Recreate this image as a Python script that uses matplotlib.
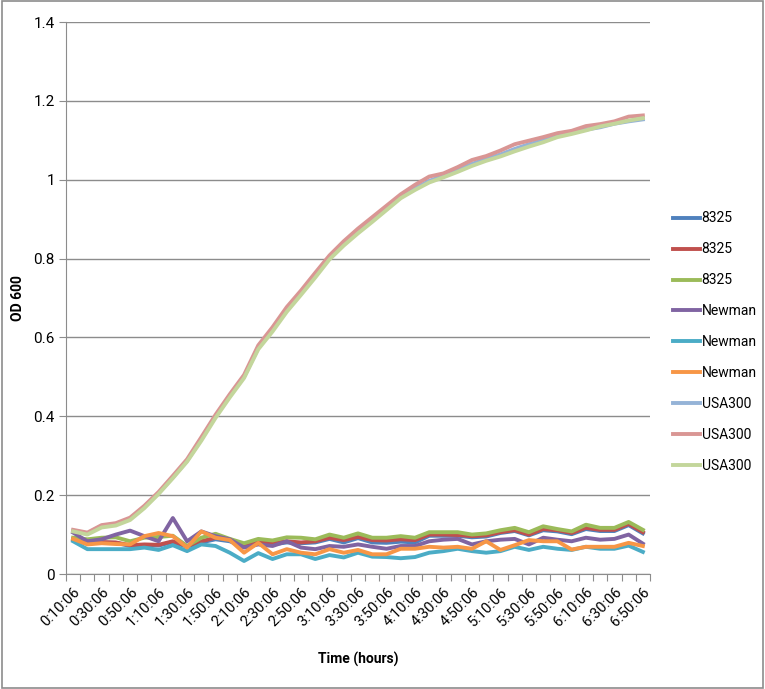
import numpy as np
import matplotlib.pyplot as plt
from matplotlib.patches import Rectangle
from matplotlib.ticker import FixedLocator, FuncFormatter

# time points, every 10 minutes
times = ['%d:%02d:06' % divmod(10 + 10 * k, 60) for k in range(41)]

usa300_a = [0.110, 0.103, 0.122, 0.127, 0.140, 0.170, 0.205, 0.245, 0.287, 0.342,
            0.400, 0.452, 0.500, 0.574, 0.620, 0.670, 0.712, 0.757, 0.802, 0.838,
            0.870, 0.899, 0.928, 0.957, 0.978, 0.997, 1.010, 1.024, 1.040, 1.053,
            1.064, 1.078, 1.090, 1.100, 1.110, 1.120, 1.127, 1.133, 1.142, 1.148, 1.153]
usa300_b = [0.112, 0.105, 0.124, 0.129, 0.143, 0.173, 0.208, 0.249, 0.291, 0.347,
            0.404, 0.456, 0.505, 0.580, 0.626, 0.677, 0.719, 0.764, 0.808, 0.844,
            0.876, 0.905, 0.934, 0.963, 0.987, 1.008, 1.016, 1.032, 1.050, 1.060,
            1.074, 1.090, 1.099, 1.108, 1.118, 1.124, 1.136, 1.141, 1.148, 1.160, 1.163]
usa300_c = [0.108, 0.100, 0.118, 0.123, 0.137, 0.167, 0.203, 0.243, 0.285, 0.338,
            0.396, 0.448, 0.497, 0.570, 0.615, 0.665, 0.708, 0.752, 0.798, 0.833,
            0.864, 0.893, 0.923, 0.953, 0.974, 0.993, 1.006, 1.020, 1.035, 1.048,
            1.059, 1.072, 1.084, 1.095, 1.108, 1.116, 1.125, 1.135, 1.142, 1.150, 1.156]

s8325_a = [0.087, 0.077, 0.080, 0.079, 0.071, 0.073, 0.072, 0.081, 0.069, 0.080,
           0.088, 0.083, 0.068, 0.080, 0.075, 0.080, 0.078, 0.080, 0.089, 0.080,
           0.091, 0.080, 0.079, 0.082, 0.080, 0.097, 0.097, 0.097, 0.093, 0.095,
           0.104, 0.109, 0.098, 0.111, 0.108, 0.101, 0.114, 0.109, 0.109, 0.124, 0.103]
s8325_b = [0.088, 0.080, 0.081, 0.080, 0.073, 0.075, 0.074, 0.083, 0.071, 0.083,
           0.092, 0.088, 0.071, 0.083, 0.078, 0.083, 0.080, 0.083, 0.092, 0.086,
           0.094, 0.086, 0.085, 0.088, 0.086, 0.100, 0.100, 0.099, 0.096, 0.098,
           0.106, 0.111, 0.100, 0.114, 0.111, 0.104, 0.117, 0.112, 0.112, 0.127, 0.106]
s8325_c = [0.092, 0.088, 0.092, 0.093, 0.083, 0.092, 0.094, 0.097, 0.071, 0.092,
           0.102, 0.089, 0.078, 0.089, 0.085, 0.093, 0.092, 0.088, 0.100, 0.092,
           0.103, 0.092, 0.092, 0.096, 0.092, 0.106, 0.106, 0.106, 0.100, 0.103,
           0.111, 0.117, 0.106, 0.121, 0.114, 0.108, 0.125, 0.117, 0.117, 0.132, 0.112]

newman_a = [0.105, 0.083, 0.088, 0.100, 0.110, 0.096, 0.083, 0.142, 0.083, 0.108,
            0.096, 0.088, 0.067, 0.075, 0.071, 0.083, 0.067, 0.063, 0.071, 0.069,
            0.075, 0.069, 0.064, 0.071, 0.071, 0.083, 0.087, 0.089, 0.075, 0.083,
            0.087, 0.089, 0.075, 0.092, 0.087, 0.083, 0.092, 0.087, 0.089, 0.100, 0.077]
newman_b = [0.083, 0.063, 0.063, 0.063, 0.063, 0.067, 0.061, 0.073, 0.058, 0.075,
            0.071, 0.054, 0.033, 0.053, 0.038, 0.050, 0.050, 0.038, 0.048, 0.042,
            0.054, 0.044, 0.043, 0.040, 0.043, 0.054, 0.058, 0.064, 0.058, 0.054,
            0.058, 0.069, 0.061, 0.069, 0.064, 0.061, 0.069, 0.064, 0.064, 0.072, 0.056]
newman_c = [0.089, 0.075, 0.078, 0.076, 0.075, 0.096, 0.104, 0.096, 0.067, 0.108,
            0.092, 0.086, 0.054, 0.079, 0.050, 0.063, 0.054, 0.050, 0.063, 0.054,
            0.061, 0.050, 0.050, 0.064, 0.064, 0.069, 0.067, 0.069, 0.064, 0.083,
            0.061, 0.073, 0.086, 0.083, 0.083, 0.062, 0.069, 0.069, 0.069, 0.079, 0.071]

series = [s8325_a, s8325_b, s8325_c, newman_a, newman_b, newman_c,
          usa300_a, usa300_b, usa300_c]
labels = ['8325', '8325', '8325', 'Newman', 'Newman', 'Newman',
          'USA300', 'USA300', 'USA300']
colors = ['#4F81BD', '#C0504D', '#9BBB59', '#8064A2', '#4BACC6', '#F79646',
          '#95B3D7', '#D99694', '#C3D69B']

plt.rcParams['font.family'] = ['Roboto', 'DejaVu Sans']

fig = plt.figure(figsize=(7.65, 6.89), dpi=100)
ax = fig.add_axes([66 / 765, 115 / 689, 584 / 765, 552 / 689])

x = np.arange(len(times))
for vals, lab, col in zip(series, labels, colors):
    ax.plot(x, vals, color=col, lw=2.8, label=lab, solid_joinstyle='round')

ax.set_xlim(-0.5, len(times) - 0.5)
ax.set_ylim(0, 1.4)
ax.set_yticks(np.arange(0, 1.41, 0.2))
ax.yaxis.set_major_formatter(FuncFormatter(lambda v, p: '%g' % round(v, 1)))
ax.grid(axis='y', color='#8C8C8C', lw=1)
ax.set_axisbelow(True)

# category boundaries get the tick marks, labels sit on every other category
ax.xaxis.set_major_locator(FixedLocator(np.arange(-0.5, len(times), 1.0)))
ax.xaxis.set_major_formatter(FuncFormatter(lambda v, p: ''))
ax.xaxis.set_minor_locator(FixedLocator(x[::2]))
ax.set_xticklabels([times[i] for i in x[::2]], minor=True, rotation=45,
                   ha='right', rotation_mode='anchor', fontsize=10.5)
ax.tick_params(axis='x', which='minor', length=0, pad=8)
ax.tick_params(axis='x', which='major', length=5, color='#8C8C8C')
ax.tick_params(axis='y', length=5, color='#8C8C8C', labelsize=11, pad=3)

for side in ['top', 'right']:
    ax.spines[side].set_visible(False)
for side in ['left', 'bottom']:
    ax.spines[side].set_color('#8C8C8C')

ax.set_ylabel('OD 600', fontweight='bold', fontsize=10, labelpad=6)
ax.set_xlabel('Time (hours)', fontweight='bold', fontsize=10, labelpad=16)

ax.legend(loc='upper left', bbox_to_anchor=(660 / 765, 1 - 199 / 689),
          bbox_transform=fig.transFigure, frameon=False, fontsize=10,
          handlelength=2.0, handletextpad=0.1, labelspacing=1.22)

fig.patches.append(Rectangle((0.002, 0.002), 0.996, 0.996, transform=fig.transFigure,
                             fill=False, edgecolor='#8C8C8C', lw=1.2))

fig.savefig('out.png', dpi=100)
